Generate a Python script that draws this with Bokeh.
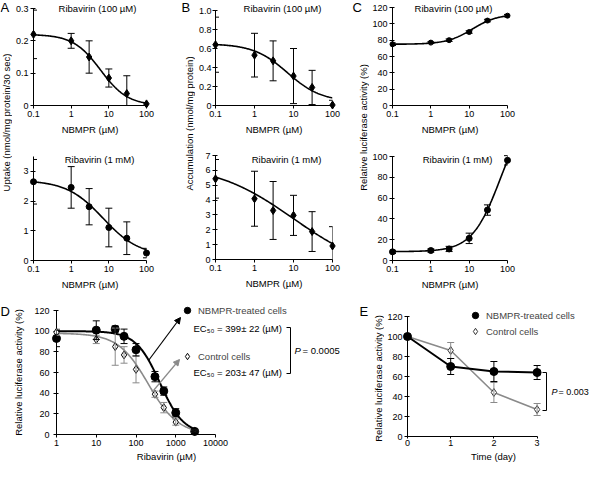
import numpy as np
from bokeh.plotting import figure
from bokeh.layouts import row, column
from bokeh.models import (Range1d, Label, Whisker, ColumnDataSource, FixedTicker,
                          CustomJSTickFormatter, Arrow, NormalHead, TeeHead,
                          Legend, LegendItem)
from bokeh.embed import file_html
from bokeh.resources import INLINE

# ---------------- data ----------------
nbmpr_um = [0.1, 1, 3, 10, 30, 100]
nbmpr_ticks = [0.1, 1, 10, 100]

uptake_100uM = [0.22, 0.20, 0.15, 0.085, 0.037, 0.005]
uptake_100uM_sd = [0.075, 0.023, 0.05, 0.028, 0.055, 0.004]
uptake_1mM = [2.65, 2.46, 1.81, 1.11, 0.75, 0.25]
uptake_1mM_sd = [0.75, 0.70, 0.61, 0.65, 0.55, 0.16]

accum_100uM = [0.64, 0.53, 0.47, 0.31, 0.19, 0.005]
accum_100uM_sd = [0.29, 0.23, 0.21, 0.29, 0.18, 0.05]
accum_1mM = [5.43, 4.09, 3.30, 2.97, 1.88, 0.91]
accum_1mM_sd = [1.30, 1.85, 1.95, 1.35, 1.34, 1.30]

luc_100uM = [75, 77, 80, 90, 104, 110]
luc_100uM_sd = [1.5, 1.0, 1.5, 1.5, 1.5, 1.5]
luc_1mM = [8.3, 9.6, 11.1, 21.3, 48.5, 96.3]
luc_1mM_sd = [1.5, 1.5, 2.5, 5.0, 5.0, 4.5]

ribavirin_um = [1, 10, 30, 50, 100, 300, 500, 1000, 3000]
ribavirin_ticks = [1, 10, 100, 1000, 10000]
d_treated = [93, 101, 102, 95, 82, 56, 42, 21, 3]
d_treated_sd = [8, 9, 3, 7, 6, 5, 4, 4, 1]
d_control = [99, 92, 85, 77, 63, 39, 26, 12, 3]
d_control_sd = [3, 4, 18, 8, 13, 3, 5, 3, 1]

time_day = [0, 1, 2, 3]
e_treated = [100, 70, 65, 64]
e_treated_sd = [0, 8, 10, 7]
e_control = [100, 86, 44, 27]
e_control_sd = [0, 8, 10, 6]

# fitted dose-response curves: (level at low dose, level at high dose, EC50, Hill slope)
fit_uptake_100uM = (0.22, 0.0, 6.0, 1.2)
fit_uptake_1mM = (2.7, 0.15, 7.0, 0.9)
fit_accum_100uM = (0.65, 0.04, 7.0, 1.0)
fit_accum_1mM = (6.5, -1.0, 10.0, 0.42)
fit_luc_100uM = (75.0, 112.0, 12.0, 1.3)
fit_luc_1mM = (8.5, 150.0, 66.0, 1.17)
fit_d_treated = (100.0, 0.0, 399.0, 1.44)
fit_d_control = (98.0, 0.0, 203.0, 1.15)

title_100uM = "Ribavirin (100 µM)"
title_1mM = "Ribavirin (1 mM)"
nbmpr_axis = "NBMPR (µM)"
uptake_axis = "Uptake (nmol/mg protein/30 sec)"
accum_axis = "Accumulation (nmol/mg protein)"
luc_axis = "Relative luciferase activity (%)"
ribavirin_axis = "Ribavirin (µM)"
time_axis = "Time (day)"
series_names = ["NBMPR-treated cells", "Control cells"]
ec50_texts = ["EC₅₀ = 399± 22 (µM)", "EC₅₀ = 203± 47 (µM)"]
p_texts = ["= 0.0005", "= 0.003"]

# ---------------- layout helpers ----------------
SX = 592 / 608
SY = 463 / 479
FONT = "Liberation Sans"
GREY = "#8a8a8a"
PLAIN = "return tick.toString();"
ONE_DEC = "return tick == 0 ? '0' : tick.toFixed(1);"


def X(v):
    return int(round(v * SX))


def Y(v):
    return int(round(v * SY))


def rel(frame, x, y):
    fx0, fy0, fx1, fy1 = frame
    return X(x) - X(fx0), Y(fy1) - Y(y)


def logistic(xs, fit):
    y0, yinf, c, n = fit
    return yinf + (y0 - yinf) / (1.0 + (xs / c) ** n)


def ext_lin(lo, hi, px_data, px_extra):
    """extend a linear range beyond its upper end by px_extra pixels"""
    return Range1d(lo, hi + (hi - lo) * px_extra / px_data)


def ext_log(lo, hi, px_data, px_extra):
    d = np.log10(hi) - np.log10(lo)
    return Range1d(lo, 10 ** (np.log10(hi) + d * px_extra / px_data))


def add_label(p, frame, text, x, y, size="9.5px", align="left", angle=0.0,
              style="normal", color="black"):
    sx_, sy_ = rel(frame, x, y)
    p.add_layout(Label(x=sx_, y=sy_, x_units="screen", y_units="screen", text=text,
                       text_font=FONT, text_font_size=size, text_align=align,
                       text_baseline="middle", angle=angle, text_font_style=style,
                       text_color=color, level="overlay"))


def add_seg(p, frame, x0, y0, x1, y1, color="black", width=1.0, head=None):
    a0 = rel(frame, x0, y0)
    a1 = rel(frame, x1, y1)
    p.add_layout(Arrow(x_start=a0[0], y_start=a0[1], x_end=a1[0], y_end=a1[1],
                       start_units="screen", end_units="screen", start=None, end=head,
                       line_color=color, line_width=width, level="overlay"))


def make_fig(box, frame, x_range, y_range, x_log=False):
    bx0, by0, bx1, by1 = box
    fx0, fy0, fx1, fy1 = frame
    p = figure(width=X(bx1) - X(bx0), height=Y(by1) - Y(by0),
               x_range=x_range, y_range=y_range,
               x_axis_type="log" if x_log else "linear",
               output_backend="svg", toolbar_location=None,
               min_border_left=X(fx0) - X(bx0), min_border_right=X(bx1) - X(fx1),
               min_border_top=Y(fy0) - Y(by0), min_border_bottom=Y(by1) - Y(fy1))
    p.outline_line_color = None
    p.xgrid.visible = False
    p.ygrid.visible = False
    p.background_fill_color = "white"
    p.border_fill_color = "white"
    for ax in (p.xaxis[0], p.yaxis[0]):
        ax.axis_line_color = "black"
        ax.major_tick_line_color = "black"
        ax.minor_tick_line_color = None
        ax.major_label_text_font = FONT
        ax.major_label_text_font_size = "9px"
        ax.major_label_text_color = "black"
        ax.axis_label_text_font = FONT
        ax.axis_label_text_font_size = "9.5px"
        ax.axis_label_text_font_style = "normal"
        ax.axis_label_text_color = "black"
        ax.major_label_standoff = 2
    p.xaxis.major_tick_out = 3
    p.xaxis.major_tick_in = 0
    p.yaxis.major_tick_out = 3
    p.yaxis.major_tick_in = 2
    p.xaxis.axis_label_standoff = 4
    return p


def whisker(p, xs, ys, sd, color):
    keep = [i for i in range(len(xs)) if sd[i] > 0]
    src = ColumnDataSource(dict(
        x=[xs[i] for i in keep],
        upper=[ys[i] + sd[i] for i in keep],
        lower=[max(ys[i] - sd[i], 0) for i in keep]))
    p.add_layout(Whisker(source=src, base="x", upper="upper", lower="lower",
                         dimension="height", line_color=color, line_width=1,
                         upper_head=TeeHead(size=7, line_color=color, line_width=1),
                         lower_head=TeeHead(size=7, line_color=color, line_width=1),
                         level="overlay"))


def dose_panel(box, dframe, ymax, yticks, yfmt, values, sd, fit, title, title_xy, marker,
               msize):
    bx0, by0, bx1, by1 = box
    fx0, fy0, fx1, fy1 = dframe
    frame = (fx0, by0, fx1, fy1)  # plotting frame reaches the top of the figure
    yr = ext_lin(0, ymax, Y(fy1) - Y(fy0), Y(fy0) - Y(by0))
    p = make_fig(box, frame, Range1d(nbmpr_ticks[0], nbmpr_ticks[-1]), yr, x_log=True)
    p.yaxis.bounds = (0, ymax)
    p.xaxis.ticker = FixedTicker(ticks=nbmpr_ticks)
    p.xaxis.formatter = CustomJSTickFormatter(code=PLAIN)
    p.yaxis.ticker = FixedTicker(ticks=yticks)
    p.yaxis.formatter = CustomJSTickFormatter(code=yfmt)
    p.xaxis.axis_label = nbmpr_axis
    xs = np.logspace(np.log10(nbmpr_um[0]), np.log10(nbmpr_um[-1]), 160)
    p.line(xs, logistic(xs, fit), line_color="black", line_width=1.6)
    whisker(p, nbmpr_um, values, sd, "black")
    r = p.scatter(nbmpr_um, values, marker=marker, size=msize, fill_color="black",
                  line_color="black")
    r.level = "overlay"
    add_label(p, frame, title, title_xy[0], title_xy[1], align="center")
    return p


def label_fig(box, items):
    bx0, by0, bx1, by1 = box
    p = figure(width=X(bx1) - X(bx0), height=Y(by1) - Y(by0),
               x_range=Range1d(0, 1), y_range=Range1d(0, 1),
               x_axis_location=None, y_axis_location=None,
               output_backend="svg", toolbar_location=None, min_border=0)
    p.outline_line_color = None
    p.xgrid.visible = False
    p.ygrid.visible = False
    p.background_fill_color = "white"
    p.border_fill_color = "white"
    for text, x, y, size, angle, align in items:
        add_label(p, box, text, x, y, size=size, align=align, angle=angle)
    return p


VERT = np.pi / 2

# ---------------- panels A, B, C ----------------
A_top = dose_panel((12, 0, 186, 142), (31, 8, 150, 109), 0.3, [0, 0.1, 0.2, 0.3], PLAIN,
                   uptake_100uM, uptake_100uM_sd, fit_uptake_100uM, title_100uM, (97, 8),
                   "diamond", 8)
A_bot = dose_panel((12, 142, 186, 302), (32, 161, 162, 269), 3.5, [0, 1, 2, 3], PLAIN,
                   uptake_1mM, uptake_1mM_sd, fit_uptake_1mM, title_1mM, (100, 164),
                   "circle", 6)
B_top = dose_panel((200, 0, 360, 142), (217, 10, 341, 109), 1.0,
                   [0, 0.2, 0.4, 0.6, 0.8, 1.0], ONE_DEC,
                   accum_100uM, accum_100uM_sd, fit_accum_100uM, title_100uM, (285, 8),
                   "diamond", 8)
B_top.yaxis.major_label_standoff = 1
B_bot = dose_panel((200, 142, 360, 302), (214, 160, 346, 268), 7, list(range(8)), PLAIN,
                   accum_1mM, accum_1mM_sd, fit_accum_1mM, title_1mM, (287, 164),
                   "diamond", 8)
C_top = dose_panel((379, 0, 608, 142), (401, 7, 521, 109), 120, list(range(0, 121, 20)),
                   PLAIN, luc_100uM, luc_100uM_sd, fit_luc_100uM, title_100uM, (463, 8),
                   "circle", 5)
C_bot = dose_panel((379, 142, 608, 302), (401, 161, 521, 269), 100,
                   list(range(0, 101, 20)), PLAIN, luc_1mM, luc_1mM_sd, fit_luc_1mM,
                   title_1mM, (467, 164), "circle", 6)

lab_A = label_fig((0, 0, 12, 302), [("A", 0, 7, "13px", 0.0, "left"),
                                    (uptake_axis, 6, 126, "9.5px", VERT, "center")])
lab_B = label_fig((186, 0, 200, 302), [("B", 186, 7, "13px", 0.0, "left"),
                                       (accum_axis, 194, 127, "9.5px", VERT, "center")])
lab_C = label_fig((360, 0, 379, 302), [("C", 362, 7, "13px", 0.0, "left"),
                                       (luc_axis, 373, 131, "9.5px", VERT, "center")])

# ---------------- panel D ----------------
D_box = (26, 302, 368, 466)
D_frame = (57, 302, 368, 449)         # plotting frame, extended for the annotations
D = make_fig(D_box, D_frame,
             ext_log(ribavirin_ticks[0], ribavirin_ticks[-1], X(221) - X(57), X(368) - X(221)),
             ext_lin(0, 120, Y(449) - Y(321), Y(321) - Y(302)), x_log=True)
D.xaxis.bounds = (ribavirin_ticks[0], ribavirin_ticks[-1])
D.yaxis.bounds = (0, 120)
D.xaxis.ticker = FixedTicker(ticks=ribavirin_ticks)
D.xaxis.formatter = CustomJSTickFormatter(code=PLAIN)
D.yaxis.ticker = FixedTicker(ticks=list(range(0, 121, 20)))
D.yaxis.formatter = CustomJSTickFormatter(code=PLAIN)
D.yaxis.major_label_standoff = 4
xs_d = np.logspace(0, np.log10(3162), 160)
D.line(xs_d, logistic(xs_d, fit_d_control), line_color=GREY, line_width=1.6)
D.line(xs_d, logistic(xs_d, fit_d_treated), line_color="black", line_width=2)
whisker(D, ribavirin_um, d_control, d_control_sd, GREY)
whisker(D, ribavirin_um, d_treated, d_treated_sd, "black")
rc = D.scatter(ribavirin_um, d_control, marker="diamond", size=8, fill_color="white",
               line_color="black", line_width=1)
rt = D.scatter(ribavirin_um, d_treated, marker="circle", size=8, fill_color="black",
               line_color="black")
rc.level = "overlay"
rt.level = "overlay"
lx, ly = rel(D_frame, 184, 377)
D.add_layout(Legend(items=[LegendItem(label=series_names[0], renderers=[rt]),
                           LegendItem(label=series_names[1], renderers=[rc])],
                    location=(lx, ly), orientation="vertical", glyph_width=16,
                    glyph_height=16, label_height=16, spacing=30, padding=0, margin=0,
                    label_standoff=3, background_fill_alpha=0, border_line_color=None,
                    label_text_font=FONT, label_text_font_size="9.5px", level="overlay"))
add_label(D, D_frame, ec50_texts[0], 198, 339)
add_label(D, D_frame, ec50_texts[1], 198, 385)
add_seg(D, D_frame, 294, 338, 298, 338)
add_seg(D, D_frame, 298, 338, 298, 386)
add_seg(D, D_frame, 294, 386, 298, 386)
add_label(D, D_frame, "P", 302, 362, style="italic")
add_label(D, D_frame, p_texts[0], 310.5, 362)
add_seg(D, D_frame, 152, 372, 185, 328, color="black", width=1.2,
        head=NormalHead(size=6, fill_color="black", line_color="black"))
add_seg(D, D_frame, 157, 403, 184, 371, color=GREY, width=1.2,
        head=NormalHead(size=6, fill_color=GREY, line_color=GREY))
lab_D = label_fig((0, 302, 26, 479), [("D", 0, 322, "13px", 0.0, "left"),
                                      (luc_axis, 18.5, 385, "9.5px", VERT, "center")])
D_xlab = label_fig((26, 466, 368, 479), [(ribavirin_axis, 139, 472, "9.5px", 0.0, "center")])

# ---------------- panel E ----------------
E_box = (394, 302, 608, 466)
E_frame = (416, 302, 608, 451)
E = make_fig(E_box, E_frame,
             ext_lin(time_day[0], time_day[-1], X(551) - X(416), X(608) - X(551)),
             ext_lin(0, 120, Y(451) - Y(327), Y(327) - Y(302)))
E.xaxis.bounds = (time_day[0], time_day[-1])
E.yaxis.bounds = (0, 120)
E.xaxis.ticker = FixedTicker(ticks=time_day)
E.xaxis.formatter = CustomJSTickFormatter(code=PLAIN)
E.yaxis.ticker = FixedTicker(ticks=list(range(0, 121, 20)))
E.yaxis.formatter = CustomJSTickFormatter(code=PLAIN)
E.xaxis.major_tick_out = 2
E.xaxis.major_label_standoff = 1
E.yaxis.major_label_standoff = 2
E.line(time_day, e_control, line_color=GREY, line_width=1.6)
E.line(time_day, e_treated, line_color="black", line_width=2)
whisker(E, time_day, e_control, e_control_sd, GREY)
whisker(E, time_day, e_treated, e_treated_sd, "black")
ec = E.scatter(time_day, e_control, marker="diamond", size=8, fill_color="white",
               line_color="#333333", line_width=1)
et = E.scatter(time_day, e_treated, marker="circle", size=8, fill_color="black",
               line_color="black")
ec.level = "overlay"
et.level = "overlay"
lx, ly = rel(E_frame, 478, 351)
E.add_layout(Legend(items=[LegendItem(label=series_names[0], renderers=[et]),
                           LegendItem(label=series_names[1], renderers=[ec])],
                    location=(lx, ly), orientation="vertical", glyph_width=16,
                    glyph_height=16, label_height=16, spacing=0, padding=0, margin=0,
                    label_standoff=3, background_fill_alpha=0, border_line_color=None,
                    label_text_font=FONT, label_text_font_size="9.5px", level="overlay"))
add_seg(E, E_frame, 555, 385, 559, 385)
add_seg(E, E_frame, 559, 385, 559, 424)
add_seg(E, E_frame, 555, 424, 559, 424)
add_label(E, E_frame, "P", 564, 404, size="9px", style="italic")
add_label(E, E_frame, p_texts[1], 571.5, 404, size="9px")
lab_E = label_fig((368, 302, 394, 479), [("E", 369, 322, "13px", 0.0, "left"),
                                         (luc_axis, 388.5, 391, "9.5px", VERT, "center")])
E_xlab = label_fig((394, 466, 608, 479), [(time_axis, 483, 472, "9.5px", 0.0, "center")])

top = row(lab_A, column(A_top, A_bot), lab_B, column(B_top, B_bot), lab_C,
          column(C_top, C_bot))
bottom = row(lab_D, column(D, D_xlab), lab_E, column(E, E_xlab))
layout = column(top, bottom)

open("out.html", "w").write(file_html(layout, INLINE))
